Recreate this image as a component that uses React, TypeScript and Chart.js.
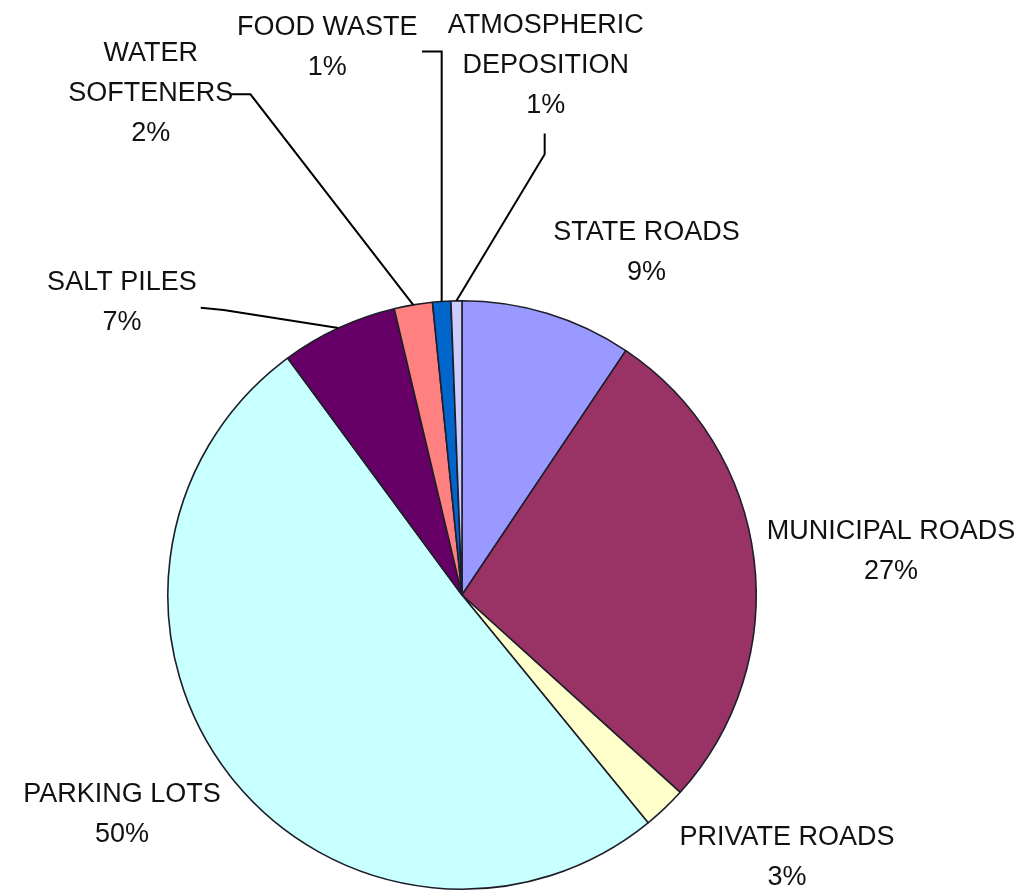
import React, { useEffect, useRef } from "react";
import { Chart, registerables } from "chart.js";

Chart.register(...registerables);

// ---- data ----
const categories = [
  "STATE ROADS",
  "MUNICIPAL ROADS",
  "PRIVATE ROADS",
  "PARKING LOTS",
  "SALT PILES",
  "WATER SOFTENERS",
  "FOOD WASTE",
  "ATMOSPHERIC DEPOSITION",
];
const shares = [9.4, 27.3, 2.4, 50.8, 6.4, 2.1, 1.0, 0.6];
const percentLabels = ["9%", "27%", "3%", "50%", "7%", "2%", "1%", "1%"];
const labelLines = [
  ["STATE ROADS"],
  ["MUNICIPAL ROADS"],
  ["PRIVATE ROADS"],
  ["PARKING LOTS"],
  ["SALT PILES"],
  ["WATER", "SOFTENERS"],
  ["FOOD WASTE"],
  ["ATMOSPHERIC", "DEPOSITION"],
];

// ---- styles / layout (not data) ----
const sliceColors = [
  "#9999FF",
  "#993366",
  "#FFFFCC",
  "#C8FFFF",
  "#660066",
  "#FF8080",
  "#0066CC",
  "#CCCCFF",
];

// label block positions (centre of first line), in units of pie radius from pie centre
const labelAnchors: [number, number][] = [
  [0.627, -1.231],
  [1.458, -0.214],
  [1.105, 0.824],
  [-1.156, 0.678],
  [-1.156, -1.061],
  [-1.058, -1.841],
  [-0.458, -1.929],
  [0.285, -1.936],
];

// leader line points after the arc edge point, in radius units; null = none
const leaderPaths: ([number, number][] | null)[] = [
  null,
  null,
  null,
  null,
  [
    [-0.81, -0.969],
    [-0.888, -0.976],
  ],
  [
    [-0.719, -1.702],
    [-0.786, -1.702],
  ],
  [
    [-0.0746, -1.847],
    [-0.136, -1.847],
  ],
  [
    [0.281, -1.498],
    [0.281, -1.569],
  ],
];
const verticalFirstLeg = [false, false, false, false, false, false, true, false];

const FONT_SIZE = 27;
const LINE_HEIGHT = 40;

const labelPlugin = {
  id: "outsideLabels",
  afterDraw(chart: any) {
    const meta = chart.getDatasetMeta(0);
    const ctx = chart.ctx as CanvasRenderingContext2D;
    ctx.save();
    meta.data.forEach((arc: any, i: number) => {
      const p = arc.getProps(["x", "y", "startAngle", "endAngle", "outerRadius"], true);
      const cx = p.x;
      const cy = p.y;
      const r = p.outerRadius;
      const mid = (p.startAngle + p.endAngle) / 2;
      const ex = cx + Math.cos(mid) * r;
      const ey = cy + Math.sin(mid) * r;

      const path = leaderPaths[i];
      if (path) {
        ctx.beginPath();
        ctx.strokeStyle = "#000";
        ctx.lineWidth = 2;
        ctx.lineJoin = "miter";
        ctx.moveTo(ex, ey);
        path.forEach((pt, k) => {
          let px = cx + pt[0] * r;
          const py = cy + pt[1] * r;
          if (k === 0 && verticalFirstLeg[i]) px = ex;
          ctx.lineTo(px, py);
        });
        ctx.stroke();
      }

      const ax = cx + labelAnchors[i][0] * r;
      const ay = cy + labelAnchors[i][1] * r;
      const lines = [...labelLines[i], percentLabels[i]];
      ctx.fillStyle = "#111";
      ctx.font = `${FONT_SIZE}px 'Liberation Sans', Arial, sans-serif`;
      ctx.textAlign = "center";
      ctx.textBaseline = "middle";
      lines.forEach((t, k) => {
        ctx.fillText(t, ax, ay + k * LINE_HEIGHT);
      });
    });
    ctx.restore();
  },
};

export default function App() {
  const canvasRef = useRef<HTMLCanvasElement | null>(null);

  useEffect(() => {
    if (!canvasRef.current) return;
    const chart = new Chart(canvasRef.current, {
      type: "pie",
      data: {
        labels: categories,
        datasets: [
          {
            data: shares,
            backgroundColor: sliceColors,
            borderColor: "#1e1e2a",
            borderWidth: 1.6,
          },
        ],
      },
      options: {
        animation: false,
        responsive: true,
        maintainAspectRatio: false,
        layout: { padding: { left: 167, right: 266, top: 300, bottom: 3 } },
        plugins: {
          legend: { display: false },
          tooltip: { enabled: false },
        },
      },
      plugins: [labelPlugin],
    });
    return () => chart.destroy();
  }, []);

  return (
    <div
      style={{
        position: "absolute",
        left: 0,
        top: 0,
        width: 1023,
        height: 893,
        background: "#fff",
      }}
    >
      <canvas ref={canvasRef} />
    </div>
  );
}
